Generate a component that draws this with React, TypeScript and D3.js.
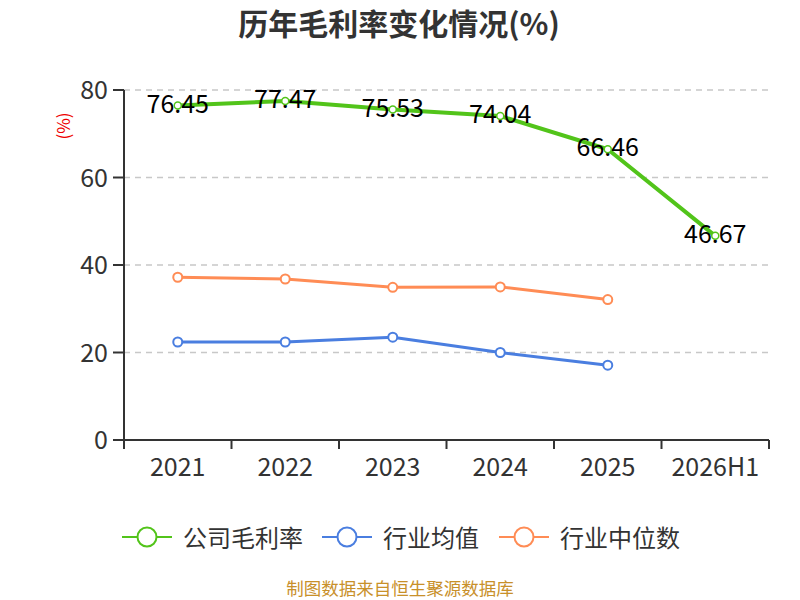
import React from "react";
import * as d3 from "d3";

const categories = ["2021", "2022", "2023", "2024", "2025", "2026H1"];
const companyMargin = [76.45, 77.47, 75.53, 74.04, 66.46, 46.67];
const industryAvg = [22.4, 22.4, 23.5, 20.0, 17.1];
const industryMedian = [37.2, 36.8, 34.9, 35.0, 32.1];
const yTicks = [0, 20, 40, 60, 80];
const seriesNames = ["公司毛利率", "行业均值", "行业中位数"];
const colors = ["#52c41a", "#4a7ee0", "#ff8c55"];

const FONT = "'Noto Sans CJK SC', 'Noto Sans', sans-serif";

export default function App() {
  const W = 800, H = 600;
  const left = 124, right = 769, top = 90, bottom = 440;
  const x = d3.scaleBand<string>().domain(categories).range([left, right]);
  const y = d3.scaleLinear().domain([0, 80]).range([bottom, top]);
  const cx = (c: string) => (x(c) as number) + x.bandwidth() / 2;
  const line = d3.line<[number, number]>().x(d => d[0]).y(d => d[1]);

  const series = [companyMargin, industryAvg, industryMedian];
  const pts = series.map(s => s.map((v, i) => [cx(categories[i]), y(v)] as [number, number]));

  const legendX = [122, 322, 499];
  const legendY = 537;

  return (
    <svg width={W} height={H} style={{ position: "absolute", left: 0, top: 0, background: "#fff" }} fontFamily={FONT}>
      <text x={399} y={22} textAnchor="middle" dominantBaseline="central" fontSize={30} fontWeight="bold" fill="#333">历年毛利率变化情况(%)</text>
      <text transform={`translate(62,126) rotate(-90)`} textAnchor="middle" dominantBaseline="central" fontSize={17} fill="#e00">(%)</text>
      {yTicks.map(t => (
        <g key={t}>
          {t > 0 && <line x1={left} x2={right} y1={y(t)} y2={y(t)} stroke="#c8c8c8" strokeWidth={1.5} strokeDasharray="6,5" />}
          <line x1={left - 11} x2={left} y1={y(t)} y2={y(t)} stroke="#333" strokeWidth={2} />
          <text x={left - 16} y={y(t) - 2} textAnchor="end" dominantBaseline="central" fontSize={25} fill="#333">{t}</text>
        </g>
      ))}
      <line x1={left} x2={left} y1={top} y2={bottom} stroke="#333" strokeWidth={2} />
      <line x1={left} x2={right} y1={bottom} y2={bottom} stroke="#333" strokeWidth={2} />
      {categories.map(c => (
        <line key={"t" + c} x1={x(c) as number} x2={x(c) as number} y1={bottom} y2={bottom + 9} stroke="#333" strokeWidth={2} />
      ))}
      <line x1={right} x2={right} y1={bottom} y2={bottom + 9} stroke="#333" strokeWidth={2} />
      {categories.map(c => (
        <text key={c} x={cx(c)} y={465} textAnchor="middle" dominantBaseline="central" fontSize={25} fill="#333">{c}</text>
      ))}
      {[2, 1, 0].map(k => (
        <path key={"s" + k} d={line(pts[k]) || ""} fill="none" stroke={colors[k]} strokeWidth={k === 0 ? 4 : 3} strokeLinejoin="round" />
      ))}
      {companyMargin.map((v, i) => (
        <text key={"l" + i} x={cx(categories[i])} y={y(v) - 4} textAnchor="middle" dominantBaseline="central" fontSize={25} fill="#000">{v.toFixed(2)}</text>
      ))}
      {[2, 1, 0].map(k => (
        <g key={"p" + k}>
          {pts[k].map((p, i) => (
            <circle key={i} cx={p[0]} cy={p[1]} r={k === 0 ? 3.5 : 4.5} fill="#fff" stroke={colors[k]} strokeWidth={k === 0 ? 1.5 : 2} />
          ))}
        </g>
      ))}
      {seriesNames.map((n, k) => (
        <g key={n}>
          <line x1={legendX[k]} x2={legendX[k] + 50} y1={legendY} y2={legendY} stroke={colors[k]} strokeWidth={2} />
          <circle cx={legendX[k] + 25} cy={legendY} r={9.5} fill="#fff" stroke={colors[k]} strokeWidth={2} />
          <text x={legendX[k] + 61} y={legendY - 1} dominantBaseline="central" fontSize={24} fill="#333">{n}</text>
        </g>
      ))}
      <text x={400} y={587} textAnchor="middle" dominantBaseline="central" fontSize={17.5} fill="#c8902a">制图数据来自恒生聚源数据库</text>
    </svg>
  );
}
